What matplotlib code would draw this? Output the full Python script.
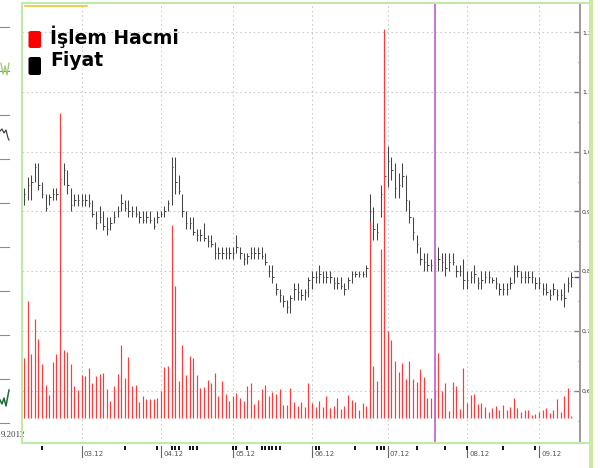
import numpy as np
import matplotlib.pyplot as plt
from matplotlib.lines import Line2D
from matplotlib.patches import FancyBboxPatch, Rectangle
from matplotlib.transforms import blended_transform_factory

# daily price bars (high / low / close) and trading volume
high = [0.940, 0.958, 0.961, 0.981, 0.981, 0.950, 0.930, 0.930, 0.940, 0.940,
        0.963, 0.981, 0.969, 0.940, 0.930, 0.930, 0.930, 0.930, 0.930, 0.919,
        0.900, 0.909, 0.900, 0.890, 0.890, 0.900, 0.909, 0.930, 0.920, 0.920,
        0.909, 0.909, 0.900, 0.900, 0.900, 0.900, 0.890, 0.900, 0.900, 0.909,
        0.919, 0.991, 0.991, 0.961, 0.930, 0.900, 0.890, 0.890, 0.870, 0.870,
        0.880, 0.861, 0.861, 0.849, 0.841, 0.841, 0.841, 0.841, 0.841, 0.861,
        0.841, 0.830, 0.830, 0.841, 0.841, 0.841, 0.841, 0.830, 0.810, 0.810,
        0.780, 0.770, 0.760, 0.752, 0.760, 0.780, 0.780, 0.770, 0.770, 0.791,
        0.801, 0.801, 0.810, 0.801, 0.801, 0.801, 0.791, 0.791, 0.791, 0.781,
        0.791, 0.801, 0.801, 0.801, 0.801, 0.810, 0.930, 0.908, 0.880, 0.944,
        0.975, 1.010, 0.991, 0.981, 0.964, 0.981, 0.961, 0.919, 0.891, 0.861,
        0.841, 0.830, 0.830, 0.820, 0.820, 0.841, 0.830, 0.830, 0.830, 0.830,
        0.810, 0.810, 0.820, 0.801, 0.801, 0.810, 0.791, 0.801, 0.801, 0.801,
        0.791, 0.791, 0.780, 0.780, 0.780, 0.791, 0.810, 0.810, 0.801, 0.801,
        0.801, 0.801, 0.791, 0.791, 0.780, 0.780, 0.771, 0.780, 0.771, 0.771,
        0.780, 0.790, 0.798]
low = [0.911, 0.919, 0.919, 0.950, 0.936, 0.922, 0.900, 0.911, 0.919, 0.919,
       0.930, 0.944, 0.930, 0.900, 0.909, 0.909, 0.909, 0.909, 0.908, 0.890,
       0.870, 0.880, 0.869, 0.861, 0.869, 0.880, 0.890, 0.900, 0.900, 0.890,
       0.890, 0.890, 0.880, 0.880, 0.880, 0.880, 0.870, 0.880, 0.890, 0.890,
       0.900, 0.911, 0.929, 0.929, 0.890, 0.870, 0.870, 0.861, 0.851, 0.851,
       0.851, 0.841, 0.841, 0.820, 0.820, 0.820, 0.820, 0.820, 0.820, 0.830,
       0.820, 0.810, 0.812, 0.820, 0.820, 0.820, 0.820, 0.810, 0.791, 0.781,
       0.760, 0.749, 0.740, 0.730, 0.730, 0.752, 0.752, 0.752, 0.752, 0.757,
       0.771, 0.780, 0.780, 0.780, 0.780, 0.780, 0.771, 0.771, 0.771, 0.760,
       0.771, 0.780, 0.790, 0.790, 0.790, 0.790, 0.883, 0.852, 0.852, 0.891,
       0.925, 0.941, 0.953, 0.922, 0.922, 0.941, 0.901, 0.880, 0.852, 0.830,
       0.810, 0.801, 0.801, 0.801, 0.801, 0.801, 0.801, 0.792, 0.801, 0.810,
       0.791, 0.792, 0.771, 0.771, 0.780, 0.780, 0.771, 0.771, 0.780, 0.780,
       0.780, 0.771, 0.760, 0.760, 0.760, 0.771, 0.780, 0.791, 0.780, 0.780,
       0.780, 0.780, 0.771, 0.771, 0.760, 0.760, 0.752, 0.760, 0.752, 0.752,
       0.740, 0.765, 0.773]
close = [0.930, 0.945, 0.950, 0.975, 0.945, 0.930, 0.905, 0.925, 0.930, 0.930,
         0.955, 0.970, 0.945, 0.910, 0.920, 0.920, 0.920, 0.920, 0.915, 0.895,
         0.880, 0.890, 0.875, 0.870, 0.880, 0.890, 0.900, 0.915, 0.905, 0.900,
         0.900, 0.895, 0.890, 0.885, 0.890, 0.885, 0.875, 0.890, 0.895, 0.900,
         0.915, 0.975, 0.950, 0.935, 0.900, 0.880, 0.880, 0.865, 0.860, 0.860,
         0.855, 0.850, 0.845, 0.830, 0.830, 0.830, 0.830, 0.830, 0.830, 0.840,
         0.830, 0.820, 0.825, 0.830, 0.830, 0.830, 0.825, 0.815, 0.800, 0.790,
         0.770, 0.760, 0.750, 0.740, 0.755, 0.770, 0.765, 0.760, 0.765, 0.785,
         0.790, 0.790, 0.795, 0.790, 0.790, 0.790, 0.780, 0.780, 0.775, 0.770,
         0.785, 0.795, 0.795, 0.795, 0.795, 0.805, 0.900, 0.870, 0.865, 0.930,
         0.960, 0.985, 0.970, 0.940, 0.945, 0.960, 0.920, 0.890, 0.865, 0.845,
         0.820, 0.815, 0.810, 0.810, 0.810, 0.820, 0.815, 0.805, 0.815, 0.815,
         0.800, 0.800, 0.785, 0.785, 0.790, 0.795, 0.780, 0.785, 0.790, 0.790,
         0.785, 0.780, 0.770, 0.770, 0.770, 0.780, 0.800, 0.800, 0.790, 0.790,
         0.790, 0.790, 0.780, 0.780, 0.770, 0.765, 0.760, 0.770, 0.760, 0.760,
         0.755, 0.780, 0.790]
volume = [60, 117, 64, 99, 79, 54, 33, 23, 56, 64,
          305, 68, 66, 54, 32, 28, 43, 42, 50, 35,
          42, 44, 45, 29, 17, 32, 44, 73, 40, 61,
          32, 33, 16, 22, 19, 19, 19, 20, 27, 51,
          52, 193, 132, 37, 73, 43, 62, 60, 43, 30,
          31, 38, 35, 45, 22, 37, 24, 17, 22, 25,
          20, 17, 32, 35, 14, 18, 29, 33, 22, 26,
          24, 29, 13, 13, 30, 16, 12, 16, 11, 35,
          15, 11, 17, 11, 22, 10, 12, 20, 9, 12,
          23, 18, 16, 8, 15, 12, 197, 52, 37, 169,
          389, 87, 78, 57, 46, 55, 39, 57, 39, 36,
          49, 41, 20, 20, 28, 65, 27, 35, 7, 36,
          32, 9, 50, 15, 23, 24, 14, 15, 11, 6,
          10, 12, 8, 13, 8, 11, 20, 10, 6, 8,
          8, 3, 4, 6, 8, 10, 5, 8, 19, 6,
          22, 30, 2]

month_pos = [17, 39, 59, 81, 102, 124, 144]
month_labels = ['03.12', '04.12', '05.12', '06.12', '07.12', '08.12', '09.12']
event_days = [6, 29, 38, 42, 43, 44, 47, 48, 49, 59, 60, 63, 67, 68, 69, 70,
              71, 72, 82, 83, 93, 99, 100, 101, 110, 118, 124, 134, 143]
price_ticks = [0.6, 0.7, 0.8, 0.9, 1.0, 1.1, 1.2]
price_labels = ['0,60', '0,70', '0,80', '0,90', '1,00', '1,10', '1,20']
marker_day = 115
last_price = 0.790

W, H = 600, 468


def fx(x):
    return x / W


def fy(y):
    return 1 - y / H


days = np.arange(1, len(high) + 1)

fig = plt.figure(figsize=(6, 4.68), dpi=100)
rect = [fx(22), fy(443), (580 - 22) / W, (443 - 3) / H]
ax = fig.add_axes(rect)
ax.set_xlim(0.44, 155.4)
ax.set_ylim(0.5124, 1.249)

for s in ['left', 'top', 'bottom']:
    ax.spines[s].set_visible(False)
ax.spines['right'].set_color('#9a9a9a')
ax.spines['right'].set_linewidth(1.4)
ax.set_xticks([])
ax.yaxis.tick_right()
ax.set_yticks(price_ticks)
ax.set_yticklabels(price_labels)
ax.set_yticks([0.55, 0.65, 0.75, 0.85, 0.95, 1.05, 1.15], minor=True)
ax.tick_params(axis='y', which='major', direction='in', length=4, width=1,
               color='#888888', labelsize=4.5, labelcolor='#333333', pad=1.5)
ax.tick_params(axis='y', which='minor', direction='in', length=1.5, width=1,
               color='#888888')

# dotted grid
for p in price_ticks:
    ax.axhline(p, color='#cccccc', lw=0.8, ls=(0, (1.5, 2.5)), zorder=0)
for m in month_pos:
    ax.axvline(m, color='#cccccc', lw=0.8, ls=(0, (1.5, 2.5)), zorder=0)

# price bars
pcol = ['#9be89b' if d == marker_day else '#444444' for d in days]
ax.vlines(days, low, high, colors=pcol, lw=0.75, zorder=3)
ax.hlines(close, days, days + 0.4, colors=pcol, lw=0.7, zorder=3)
ax.hlines(last_price, 153.6, 155.2, colors='#3344ee', lw=1, zorder=4)

# volume on its own scale
axv = fig.add_axes(rect, sharex=ax)
axv.set_ylim(-25, 415)
axv.axis('off')
axv.patch.set_alpha(0)
vcol = ['#9be89b' if d == marker_day else '#ff3a3a' for d in days]
axv.vlines(days, 0, volume, colors=vcol, lw=0.85, zorder=2)
axv.axvline(marker_day, color='#b84fc8', lw=1.1, zorder=5)

# month ticks and labels below the frame
tr = blended_transform_factory(ax.transData, ax.transAxes)
for m, lab in zip(month_pos, month_labels):
    ax.plot([m, m], [-3 / 440, -14 / 440], transform=tr, clip_on=False,
            color='#666666', lw=0.8)
    ax.text(m + 0.6, -11.5 / 440, lab, transform=tr, fontsize=5,
            color='#555555', va='center', ha='left')
ax.plot(event_days, [-4.5 / 440] * len(event_days), ls='none', marker='|',
        ms=2.5, mew=1.4, color='#111111', transform=tr, clip_on=False)

# legend
fig.add_artist(FancyBboxPatch((fx(28.5), fy(48)), 12.5 / W, 17 / H,
                              boxstyle='round,pad=0,rounding_size=0.004',
                              transform=fig.transFigure, fc='#ff0000', ec='none'))
fig.add_artist(FancyBboxPatch((fx(28.5), fy(75)), 12.5 / W, 18 / H,
                              boxstyle='round,pad=0,rounding_size=0.004',
                              transform=fig.transFigure, fc='#000000', ec='none'))
fig.text(fx(50), fy(44.5), 'İşlem Hacmi', fontsize=13.5, fontweight='bold',
         va='baseline', ha='left')
fig.text(fx(50), fy(65.5), 'Fiyat', fontsize=13.5, fontweight='bold',
         va='baseline', ha='left')

# green frame, right bar and other screen leftovers
green = '#bde9a9'
fig.add_artist(Line2D([fx(22), fx(22)], [fy(3), fy(443)], color=green, lw=1.5, zorder=6))
fig.add_artist(Line2D([fx(22), fx(590)], [fy(3), fy(3)], color=green, lw=1.5))
fig.add_artist(Line2D([fx(22), fx(590)], [fy(443), fy(443)], color=green, lw=1.5))
fig.add_artist(Line2D([fx(25), fx(87)], [fy(5.5), fy(5.5)], color='#f2c230', lw=1.2))
fig.add_artist(Rectangle((fx(593), 0), 7 / W, 1, transform=fig.transFigure,
                         fc='white', ec='none', zorder=10))
fig.add_artist(Rectangle((fx(589), 0), 4 / W, 1, transform=fig.transFigure,
                         fc='#cde8a0', ec='none', zorder=11))

for k in range(10):
    y = 27 + 44 * k
    fig.add_artist(Line2D([0, fx(9)], [fy(y), fy(y)], color='#8a8a8a', lw=0.8))
fig.add_artist(Line2D([fx(x) for x in [1, 3, 5, 7, 9]],
                      [fy(y) for y in [63, 74, 66, 75, 63]], color='#9ccc6a', lw=0.9))
fig.add_artist(Line2D([fx(x) for x in [0, 2, 4, 6, 8, 9]],
                      [fy(y) for y in [131, 129, 133, 130, 138, 140]], color='#444444', lw=0.9))
fig.add_artist(Line2D([fx(x) for x in [0, 2, 4, 6, 9]],
                      [fy(y) for y in [400, 404, 398, 406, 390]], color='#1f6b3a', lw=1.1))
fig.text(fx(0.5), fy(435), '9.2012', fontsize=6.5, family='Liberation Serif',
         color='#444444', ha='left', va='center')

fig.savefig('out.png', dpi=100, facecolor='white')
